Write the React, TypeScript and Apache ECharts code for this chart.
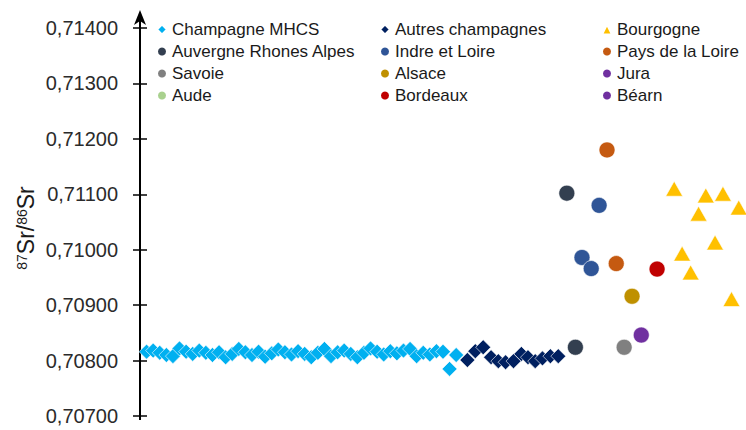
import React, { useEffect, useRef } from "react";
import * as echarts from "echarts";

const Y_MIN = 0.707;
const Y_MAX = 0.714;
const Y_STEP = 0.001;
const X_MIN = 0;
const X_MAX = 92;

const champagneMHCS: [number, number][] = [
  [1, 0.70816], [2, 0.70818], [3, 0.70814], [4, 0.7081], [5, 0.70808], [6, 0.70822],
  [7, 0.70816], [8, 0.70812], [9, 0.70818], [10, 0.70814], [11, 0.7081], [12, 0.70815],
  [13, 0.70806], [14, 0.70812], [15, 0.70821], [16, 0.70815], [17, 0.7081], [18, 0.70816],
  [19, 0.70807], [20, 0.70813], [21, 0.7082], [22, 0.70815], [23, 0.70811], [24, 0.70817],
  [25, 0.70812], [26, 0.70806], [27, 0.70814], [28, 0.70821], [29, 0.70808], [30, 0.70815],
  [31, 0.70818], [32, 0.70812], [33, 0.70806], [34, 0.70814], [35, 0.70822], [36, 0.70816],
  [37, 0.70811], [38, 0.70817], [39, 0.70813], [40, 0.70818], [41, 0.70821], [42, 0.70808],
  [43, 0.70814], [44, 0.70811], [45, 0.70817], [46, 0.70816], [47, 0.70785], [48, 0.7081],
];
const autresChampagnes: [number, number][] = [
  [49.7, 0.70801], [50.9, 0.70817], [52.1, 0.70824], [53.3, 0.70806], [54.4, 0.70799],
  [55.5, 0.70797], [56.7, 0.70799], [57.9, 0.70812], [58.9, 0.70806], [60.0, 0.70799],
  [61.1, 0.70804], [62.3, 0.70808], [63.5, 0.70808],
];
const auvergne: [number, number][] = [[64.8, 0.71102], [66.1, 0.70824]];
const indreEtLoire: [number, number][] = [[67.1, 0.70986], [68.5, 0.70966], [69.7, 0.7108]];
const paysDeLaLoire: [number, number][] = [[70.9, 0.7118], [72.3, 0.70975]];
const savoie: [number, number][] = [[73.5, 0.70824]];
const alsace: [number, number][] = [[74.7, 0.70916]];
const jura: [number, number][] = [[76.1, 0.70846]];
const aude: [number, number][] = [];
const bordeaux: [number, number][] = [[78.5, 0.70965]];
const bearn: [number, number][] = [];
const bourgogne: [number, number][] = [
  [81.1, 0.7111], [82.3, 0.70993], [83.6, 0.70959], [84.8, 0.71065], [85.9, 0.71098],
  [87.3, 0.71013], [88.5, 0.71101], [89.8, 0.70911], [90.9, 0.71076],
];

const FONT = "'Liberation Sans', Arial, Helvetica, sans-serif";

function scatter(name: string, data: [number, number][], symbol: string, size: number | number[], color: string) {
  return {
    name,
    type: "scatter",
    data,
    symbol,
    symbolSize: size,
    itemStyle: { color, borderColor: "#ffffff", borderWidth: 0.6, opacity: 1 },
    emphasis: { disabled: true },
  };
}

const legendBase = {
  orient: "vertical",
  itemWidth: 10,
  itemHeight: 10,
  itemGap: 5,
  padding: 0,
  top: 21,
  selectedMode: false,
  textStyle: { fontSize: 17, color: "#1a1a1a", fontFamily: FONT },
};

const labelFmt = (v: number) => v.toFixed(5).replace(".", ",");

const option = {
  animation: false,
  backgroundColor: "#ffffff",
  grid: { left: 140, right: 0, top: 28, bottom: 14 },
  legend: [
    { ...legendBase, left: 156, data: [{ name: "Champagne MHCS", icon: "diamond" }, "Auvergne Rhones Alpes", "Savoie", "Aude"] },
    { ...legendBase, left: 379, data: [{ name: "Autres champagnes", icon: "diamond" }, "Indre et Loire", "Alsace", "Bordeaux"] },
    { ...legendBase, left: 601, data: ["Bourgogne", "Pays de la Loire", "Jura", "Béarn"] },
  ],
  xAxis: { type: "value", min: X_MIN, max: X_MAX, show: false },
  yAxis: [
    {
      type: "value",
      min: Y_MIN,
      max: Y_MAX,
      interval: Y_STEP,
      axisLine: { show: true, lineStyle: { color: "#000", width: 2 } },
      axisTick: { show: true, inside: false, length: 7, lineStyle: { color: "#000", width: 1.5 } },
      axisLabel: { formatter: labelFmt, fontSize: 20, color: "#2b2b2b", fontFamily: FONT, margin: 22 },
      splitLine: { show: false },
    },
    {
      type: "value",
      min: Y_MIN,
      max: Y_MAX,
      interval: Y_STEP,
      position: "left",
      axisLine: { show: false },
      axisTick: { show: true, inside: true, length: 7, lineStyle: { color: "#000", width: 1.5 } },
      axisLabel: { show: false },
      splitLine: { show: false },
    },
  ],
  series: [
    scatter("Champagne MHCS", champagneMHCS, "diamond", 15, "#00B0F0"),
    scatter("Autres champagnes", autresChampagnes, "diamond", 15, "#002060"),
    scatter("Bourgogne", bourgogne, "triangle", [17, 15], "#FFC000"),
    scatter("Auvergne Rhones Alpes", auvergne, "circle", 16, "#333F50"),
    scatter("Indre et Loire", indreEtLoire, "circle", 16, "#2F5597"),
    scatter("Pays de la Loire", paysDeLaLoire, "circle", 16, "#C55A11"),
    scatter("Savoie", savoie, "circle", 16, "#808080"),
    scatter("Alsace", alsace, "circle", 16, "#BF9000"),
    scatter("Jura", jura, "circle", 16, "#7030A0"),
    scatter("Aude", aude, "circle", 16, "#A9D18E"),
    scatter("Bordeaux", bordeaux, "circle", 16, "#C00000"),
    scatter("Béarn", bearn, "circle", 16, "#7030A0"),
  ],
};

export default function App() {
  const ref = useRef<HTMLDivElement>(null);
  useEffect(() => {
    document.body.style.margin = "0";
    const chart = echarts.init(ref.current as HTMLDivElement, null, { renderer: "svg" });
    chart.setOption(option as any);
    const x0 = chart.convertToPixel({ xAxisIndex: 0 }, X_MIN) as number;
    const yTop = chart.convertToPixel({ yAxisIndex: 0 }, Y_MAX) as number;
    const yBot = chart.convertToPixel({ yAxisIndex: 0 }, Y_MIN) as number;
    const yMid = (yTop + yBot) / 2;
    chart.setOption({
      graphic: [
        { type: "line", shape: { x1: x0, y1: yTop, x2: x0, y2: yTop - 14 }, style: { stroke: "#000", lineWidth: 2 } },
        { type: "line", shape: { x1: x0, y1: yBot, x2: x0, y2: yBot + 4 }, style: { stroke: "#000", lineWidth: 2 } },
        {
          type: "polygon",
          shape: { points: [[x0, yTop - 18], [x0 - 6, yTop - 3], [x0, yTop - 7], [x0 + 6, yTop - 3]] },
          style: { fill: "#000" },
        },
        {
          type: "text",
          x: 26,
          y: yMid + 6,
          rotation: Math.PI / 2,
          style: {
            text: "{s|87}{m|Sr/}{s|86}{m|Sr}",
            align: "center",
            verticalAlign: "middle",
            fill: "#1a1a1a",
            fontFamily: FONT,
            rich: {
              s: { fontSize: 14, verticalAlign: "top", fontFamily: FONT, fill: "#1a1a1a" },
              m: { fontSize: 23, fontFamily: FONT, fill: "#1a1a1a" },
            },
          },
        },
      ],
    });
    return () => chart.dispose();
  }, []);
  return <div ref={ref} style={{ width: 746, height: 430 }} />;
}
